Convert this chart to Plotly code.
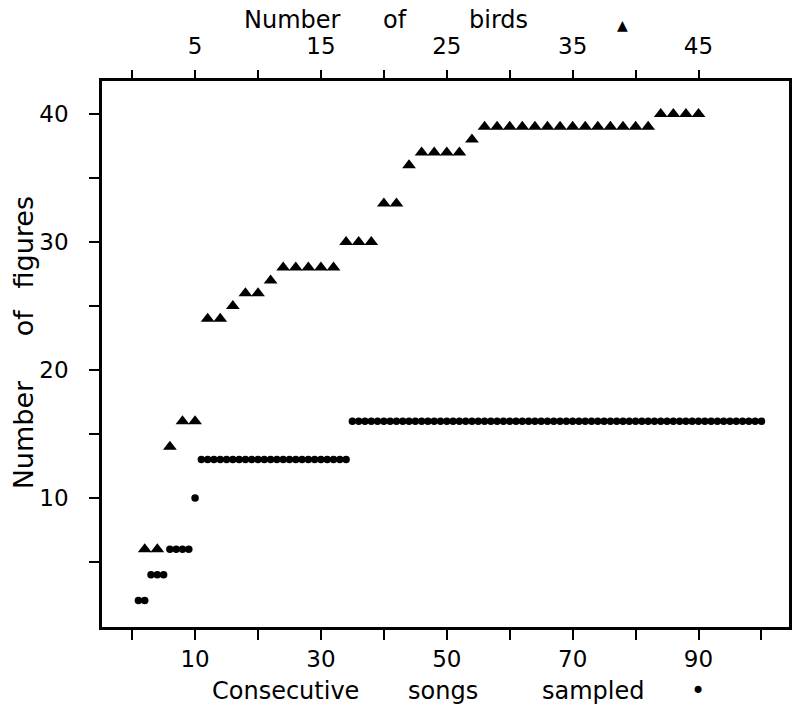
import plotly.graph_objects as go

# ---- data ----
song_number = list(range(1, 101))
song_figures = [2, 2, 4, 4, 4, 6, 6, 6, 6, 10,
                13, 13, 13, 13, 13, 13, 13, 13, 13, 13,
                13, 13, 13, 13, 13, 13, 13, 13, 13, 13,
                13, 13, 13, 13, 16, 16, 16, 16, 16, 16,
                16, 16, 16, 16, 16, 16, 16, 16, 16, 16,
                16, 16, 16, 16, 16, 16, 16, 16, 16, 16,
                16, 16, 16, 16, 16, 16, 16, 16, 16, 16,
                16, 16, 16, 16, 16, 16, 16, 16, 16, 16,
                16, 16, 16, 16, 16, 16, 16, 16, 16, 16,
                16, 16, 16, 16, 16, 16, 16, 16, 16, 16]

bird_number = list(range(1, 46))
bird_figures = [6, 6, 14, 16, 16, 24, 24, 25, 26, 26,
                27, 28, 28, 28, 28, 28, 30, 30, 30, 33,
                33, 36, 37, 37, 37, 37, 38, 39, 39, 39,
                39, 39, 39, 39, 39, 39, 39, 39, 39, 39,
                39, 40, 40, 40, 40]

song_tickvals = [0, 10, 20, 30, 40, 50, 60, 70, 80, 90, 100]
song_ticktext = ["", "10", "", "30", "", "50", "", "70", "", "90", ""]
bird_tickvals = [0, 5, 10, 15, 20, 25, 30, 35, 40, 45]
bird_ticktext = ["", "5", "", "15", "", "25", "", "35", "", "45"]
fig_tickvals = [5, 10, 15, 20, 25, 30, 35, 40]
fig_ticktext = ["", "10", "", "20", "", "30", "", "40"]

FONT = "DejaVu Sans"
TF = dict(family=FONT, size=23, color="black")

fig = go.Figure()
fig.add_trace(go.Scatter(x=song_number, y=song_figures, mode="markers",
                         marker=dict(symbol="circle", size=7.5, color="black"),
                         showlegend=False, xaxis="x", yaxis="y"))
fig.add_trace(go.Scatter(x=bird_number, y=bird_figures, mode="markers",
                         marker=dict(symbol="triangle-up", size=12, color="black"),
                         showlegend=False, xaxis="x2", yaxis="y"))

axis_common = dict(showgrid=False, zeroline=False, showline=True, linewidth=2.5,
                   linecolor="black", ticks="outside", tickwidth=2,
                   tickcolor="black", tickfont=TF)

fig.update_layout(
    width=793, height=708,
    margin=dict(l=102, r=1, t=81, b=81),
    paper_bgcolor="white", plot_bgcolor="white",
    xaxis=dict(range=[-4.79, 104.38], tickvals=song_tickvals, ticktext=song_ticktext,
               ticklen=10, **axis_common),
    xaxis2=dict(range=[-2.395, 52.19], tickvals=bird_tickvals, ticktext=bird_ticktext,
                overlaying="x", side="top", anchor="y", ticklen=8,
                ticklabelstandoff=7, **axis_common),
    yaxis=dict(range=[-0.08, 42.58], tickvals=fig_tickvals, ticktext=fig_ticktext,
               ticklen=10, mirror=True, ticklabelstandoff=16, **axis_common),
)

def word(text, x, y, angle=0, size=24):
    fig.add_annotation(text=text, xref="paper", yref="paper", x=x, y=y,
                       xanchor="center", yanchor="middle", showarrow=False,
                       textangle=angle, font=dict(family=FONT, size=size, color="black"))

# top title
word("Number", 0.2768, 1.1117)
word("of", 0.4261, 1.1117)
word("birds", 0.5768, 1.1117)
word("\u25b2", 0.758, 1.1026, size=14)
# bottom title
word("Consecutive", 0.2667, -0.1172)
word("songs", 0.4957, -0.1172)
word("sampled", 0.7159, -0.1172)
word("\u2022", 0.8681, -0.1172)
# y title
word("figures", -0.1145, 0.705, angle=-90, size=27)
word("of", -0.1145, 0.5586, angle=-90, size=27)
word("Number", -0.1145, 0.3516, angle=-90, size=27)

fig.write_html("out.html")
